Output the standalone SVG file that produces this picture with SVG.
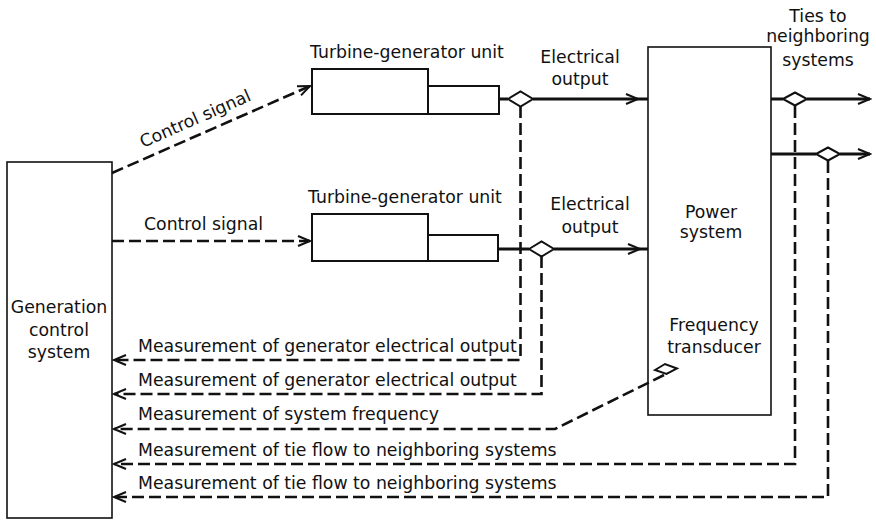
<svg xmlns="http://www.w3.org/2000/svg" width="876" height="520" viewBox="0 0 876 520">
  <style>
    text { font-family: "DejaVu Sans", "Liberation Sans", sans-serif; font-size: 17.3px; fill: #111; }
    .box { fill: #fff; stroke: #111; stroke-width: 1.6; }
    .tbox { fill: #fff; stroke: #111; stroke-width: 2; }
    .dash { fill: none; stroke: #111; stroke-width: 2.6; stroke-dasharray: 12 5; }
    .power { fill: none; stroke: #111; stroke-width: 3; }
    .head { fill: none; stroke: #111; stroke-width: 2; stroke-linejoin: miter; }
    .sensor { fill: #fff; stroke: #111; stroke-width: 2; }
    .mid { text-anchor: middle; }
  </style>
  <defs>
    <marker id="arr" markerUnits="userSpaceOnUse" viewBox="-14 -7 16 14" markerWidth="16" markerHeight="14" refX="0" refY="0" orient="auto">
      <path d="M-12,-5 L0,0 L-12,5" fill="none" stroke="#111" stroke-width="2" stroke-dasharray="none"/>
    </marker>
  </defs>
  <rect width="876" height="520" fill="#fff"/>

  <g id="generation-control-system">
    <rect class="box" x="7" y="162" width="105" height="356"/>
    <text class="mid" x="59" y="313">Generation</text>
    <text class="mid" x="59" y="336">control</text>
    <text class="mid" x="59" y="358">system</text>
  </g>

  <g id="turbine-generator-1">
    <rect class="tbox" x="312" y="69" width="116" height="45"/>
    <rect class="tbox" x="428" y="86" width="71" height="28"/>
    <text x="310" y="58">Turbine-generator unit</text>
  </g>

  <g id="turbine-generator-2">
    <rect class="tbox" x="312" y="214" width="116" height="47"/>
    <rect class="tbox" x="428" y="235" width="70" height="26"/>
    <text x="308" y="203">Turbine-generator unit</text>
  </g>

  <g id="power-system">
    <rect class="box" x="648" y="47" width="123" height="368"/>
    <text class="mid" x="711" y="218">Power</text>
    <text class="mid" x="711" y="238">system</text>
    <text class="mid" x="714" y="331">Frequency</text>
    <text class="mid" x="714" y="353">transducer</text>
  </g>

  <g id="connectors">
    <!-- control signals -->
    <line class="dash" x1="112" y1="173" x2="310" y2="86" marker-end="url(#arr)"/>
    <line class="dash" x1="112" y1="241" x2="310" y2="241" marker-end="url(#arr)"/>

    <!-- electrical outputs -->
    <line class="power" x1="499" y1="99" x2="508" y2="99"/>
    <line class="power" x1="533" y1="99" x2="648" y2="99"/>
    <polyline class="head" points="626,94 638,99 626,104"/>
    <line class="power" x1="498" y1="249" x2="529" y2="249"/>
    <line class="power" x1="554" y1="249" x2="648" y2="249"/>
    <polyline class="head" points="628,244 640,249 628,254"/>

    <!-- ties -->
    <line class="power" x1="771" y1="99" x2="783" y2="99"/>
    <line class="power" x1="807" y1="99" x2="870" y2="99" marker-end="url(#arr)"/>
    <line class="power" x1="771" y1="154" x2="816" y2="154"/>
    <line class="power" x1="840" y1="154" x2="870" y2="154" marker-end="url(#arr)"/>

    <!-- measurement returns -->
    <path class="dash" d="M520.5,106 V360 H114" marker-end="url(#arr)"/>
    <path class="dash" d="M541.5,256 V394 H114" marker-end="url(#arr)"/>
    <path class="dash" d="M664,375 L555,429 H114" marker-end="url(#arr)"/>
    <path class="dash" d="M795,106 V464 H114" marker-end="url(#arr)"/>
    <path class="dash" d="M828,161 V497 H114" marker-end="url(#arr)"/>

    <!-- sensors (diamonds) -->
    <polygon class="sensor" points="508,99 520.5,91.5 533,99 520.5,106.5"/>
    <polygon class="sensor" points="529,249 541.5,241.5 554,249 541.5,256.5"/>
    <polygon class="sensor" points="783,99 795,92.5 807,99 795,105.5"/>
    <polygon class="sensor" points="816,154 828,147.5 840,154 828,160.5"/>
    <polygon class="sensor" points="655,370 665,364 677,368.5 666.5,374"/>
  </g>

  <g id="labels">
    <text transform="rotate(-23.7 143 148)" x="143" y="148">Control signal</text>
    <text x="144" y="230">Control signal</text>
    <text class="mid" x="580" y="63">Electrical</text>
    <text class="mid" x="580" y="85">output</text>
    <text class="mid" x="590" y="210">Electrical</text>
    <text class="mid" x="590" y="233">output</text>
    <text class="mid" x="818" y="22">Ties to</text>
    <text class="mid" x="818" y="42">neighboring</text>
    <text class="mid" x="818" y="66">systems</text>
    <text x="138" y="352">Measurement of generator electrical output</text>
    <text x="138" y="386">Measurement of generator electrical output</text>
    <text x="138" y="420">Measurement of system frequency</text>
    <text x="138" y="456">Measurement of tie flow to neighboring systems</text>
    <text x="138" y="489">Measurement of tie flow to neighboring systems</text>
  </g>
</svg>
